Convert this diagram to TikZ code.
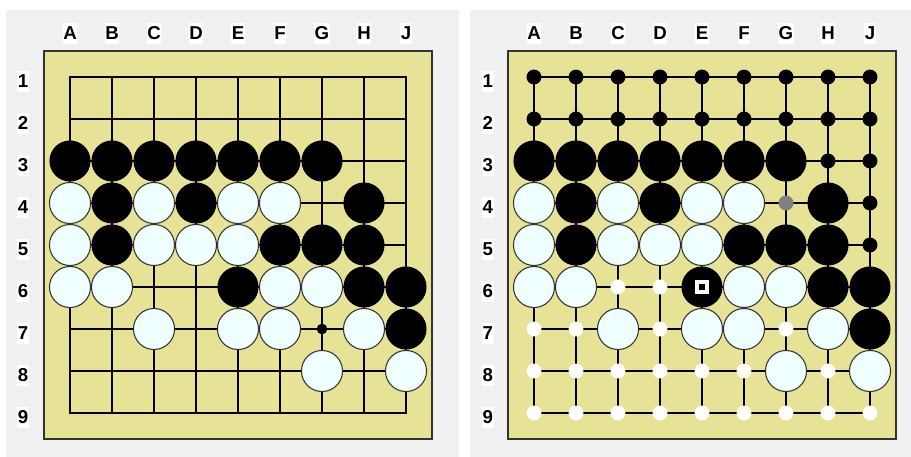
\documentclass[tikz,border=0pt]{standalone}
\usepackage{fontspec}
\setmainfont{Liberation Sans}
\definecolor{goban}{RGB}{230,227,150}
\definecolor{panel}{RGB}{240,240,240}
\definecolor{wstone}{RGB}{240,255,255}
\tikzset{board/.style={x=31.5pt,y=-31.5pt},
  bstone/.style={fill=black},
  wstone/.style={fill=wstone,draw=black!80,line width=0.8pt},
  lbl/.style={fill=white,inner xsep=0.4pt,inner ysep=0pt,text height=12.5pt,text depth=3.3pt,font=\bfseries\fontsize{14}{14}\selectfont}}

\begin{document}
\begin{tikzpicture}[x=0.75pt,y=-0.75pt]
    \def\blk{0/2,1/2,2/2,3/2,4/2,5/2,6/2,1/3,3/3,7/3,1/4,5/4,6/4,7/4,4/5,7/5,8/5,8/6}
    \def\wht{0/3,2/3,4/3,5/3,0/4,2/4,3/4,4/4,0/5,1/5,5/5,6/5,2/6,4/6,5/6,7/6,6/7,8/7}
    \def\rad{15.4pt}
    \useasboundingbox (0,0) rectangle (911,457);
    \fill[panel] (6,10) rectangle (459,457);
    \fill[panel] (470,10) rectangle (911,457);
    % left board
    \begin{scope}[shift={(70,77)},board]
      \fill[black!35] (-0.6,-0.6) rectangle (8.65,8.65);
      \filldraw[fill=goban,draw=black!80,line width=0.9pt] (-0.62,-0.62) rectangle (8.62,8.62);
      \foreach \k in {0,...,8} {\draw[line width=1pt,line cap=rect] (\k,0) -- (\k,8); \draw[line width=1pt,line cap=rect] (0,\k) -- (8,\k);}
      \foreach \l [count=\i from 0] in {A,B,C,D,E,F,G,H,J} \node[lbl] (colL\i) at (\i,-1.03) {\l};
      \foreach \n [count=\i from 0] in {1,...,9} \node[lbl] (rowL\i) at (-1.12,\i+0.1) {\n};
      \foreach \c/\r in \blk \fill[bstone] (\c,\r) circle (\rad);
      \foreach \c/\r in \wht \filldraw[wstone] (\c,\r) circle (\rad);
      \fill (6,6) circle (4pt);
    \end{scope}
    % right board
    \begin{scope}[shift={(534,77)},board]
      \fill[black!35] (-0.6,-0.6) rectangle (8.65,8.65);
      \filldraw[fill=goban,draw=black!80,line width=0.9pt] (-0.62,-0.62) rectangle (8.62,8.62);
      \foreach \k in {0,...,8} {\draw[line width=1pt,line cap=rect] (\k,0) -- (\k,8); \draw[line width=1pt,line cap=rect] (0,\k) -- (8,\k);}
      \foreach \l [count=\i from 0] in {A,B,C,D,E,F,G,H,J} \node[lbl] (colR\i) at (\i,-1.03) {\l};
      \foreach \n [count=\i from 0] in {1,...,9} \node[lbl] (rowR\i) at (-1.1,\i+0.1) {\n};
      \foreach \c/\r in \blk \fill[bstone] (\c,\r) circle (\rad);
      \foreach \c/\r in \wht \filldraw[wstone] (\c,\r) circle (\rad);
      \foreach \c/\r in {0/0,1/0,2/0,3/0,4/0,5/0,6/0,7/0,8/0,0/1,1/1,2/1,3/1,4/1,5/1,6/1,7/1,8/1,7/2,8/2,8/3,8/4}
        \fill (\c,\r) circle (5.6pt);
      \fill[black!50] (6,3) circle (5.6pt);
      \foreach \c/\r in {2/5,3/5,0/6,1/6,3/6,6/6,0/7,1/7,2/7,3/7,4/7,5/7,7/7,0/8,1/8,2/8,3/8,4/8,5/8,6/8,7/8,8/8}
        \fill[white] (\c,\r) circle (5.6pt);
      \fill[white] (4,5) ++(-5.25pt,-5.25pt) rectangle ++(10.5pt,10.5pt);
      \fill (4,5) ++(-2.25pt,-2.25pt) rectangle ++(4.5pt,4.5pt);
    \end{scope}
\end{tikzpicture}
\end{document}
